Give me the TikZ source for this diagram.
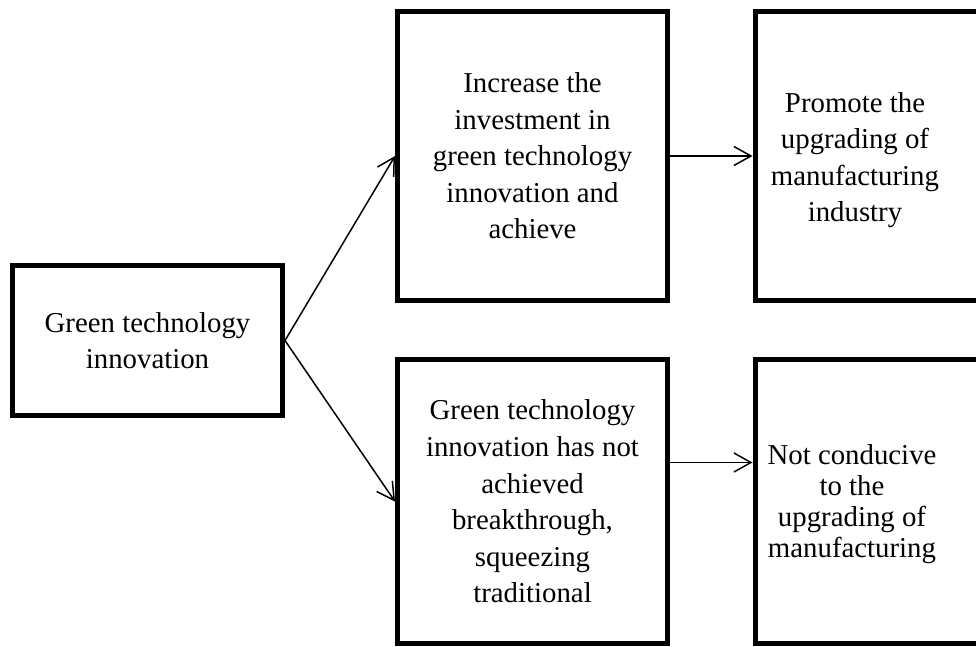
\documentclass[tikz,border=0pt]{standalone}
\usepackage{fontspec}
\setmainfont{Liberation Serif}
\usepackage{tikz}
\usetikzlibrary{arrows.meta,positioning}
\tikzset{blk/.style={rectangle,draw,line width=0.1cm,minimum width=5.4cm,inner sep=0pt},
         txt/.style={align=center,font=\fontsize{16.4}{20.8}\selectfont}}

\begin{document}
\begin{tikzpicture}[>={Straight Barb[length=3.4mm,width=3.8mm]},line width=0.03cm]
    \useasboundingbox (0,0) rectangle (19.52,12.92);
    \clip (0,0) rectangle (19.52,12.92);

    \node[blk,txt,minimum height=3cm] (green) at (2.95,6.11) {Green technology\\innovation};
    \node[blk,txt,minimum height=5.78cm] (inc) at (10.65,9.80) {Increase the\\investment in\\green technology\\innovation and\\achieve};
    \node[blk,minimum height=5.78cm] (promote) at (17.8,9.80) {};
    \node[txt] (promotetxt) at (17.1,9.72) {Promote the\\upgrading of\\manufacturing\\industry};
    \node[blk,txt,minimum height=5.68cm] (nobreak) at (10.65,2.89) {Green technology\\innovation has not\\achieved\\breakthrough,\\squeezing\\traditional};
    \node[blk,minimum height=5.68cm] (notcond) at (17.8,2.89) {};
    \node[txt,font=\fontsize{16.4}{17.5}\selectfont] (notcondtxt) at (17.04,2.84) {Not conducive\\to the\\upgrading of\\manufacturing};

    \draw [->] (green.east) to [] (inc.west);
    \draw [->] (green.east) to [] (nobreak.west);
    \draw [->] (inc) to [] (promote);
    \draw [->] ([yshift=0.78cm]nobreak.east) to [] ([yshift=0.78cm]notcond.west);
\end{tikzpicture}
\end{document}
